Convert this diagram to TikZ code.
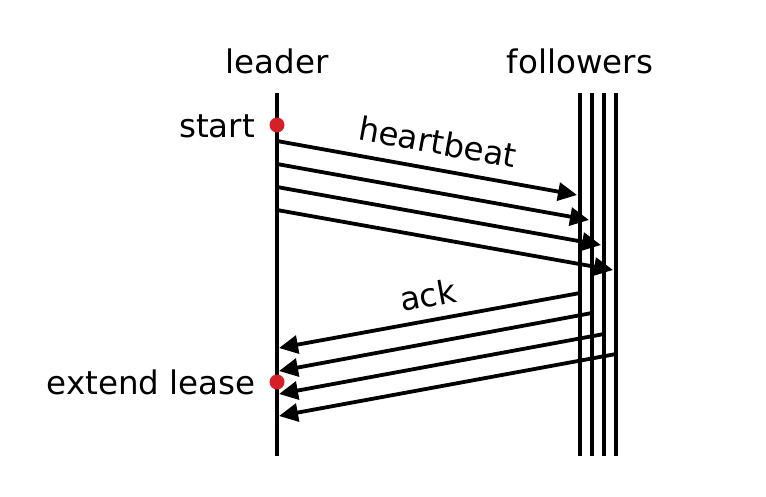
\documentclass[tikz,border=0pt]{standalone}
\usepackage{fontspec}
\setmainfont{DejaVu Sans}
\usetikzlibrary{arrows.meta}
\definecolor{eventred}{RGB}{214,32,40}

\begin{document}
\begin{tikzpicture}[x=1pt, y=-1pt,
	life/.style={line width=3.8pt},
	msg/.style={line width=3.8pt, -{Triangle[length=19pt,width=18pt]}},
	event/.style={fill=eventred, circle, inner sep=0pt, minimum size=15pt},
	txt/.style={font=\fontsize{32.5}{38}\selectfont, inner sep=0pt}]
	\useasboundingbox (0, 0) rectangle (766, 496);
	% titles
	\node [txt, anchor=base] (leader) at (277, 73) {leader};
	\node [txt, anchor=base] (followers) at (580, 73) {followers};
	% life lines
	\coordinate (l-top) at (277, 93);
	\coordinate (l-bot) at (277, 456);
	\draw [life] (l-top) -- (l-bot);
	\coordinate (f1-top) at (580, 93); \coordinate (f1-bot) at (580, 456);
	\coordinate (f2-top) at (592, 93); \coordinate (f2-bot) at (592, 456);
	\coordinate (f3-top) at (604, 93); \coordinate (f3-bot) at (604, 456);
	\coordinate (f4-top) at (616, 93); \coordinate (f4-bot) at (616, 456);
	\draw [life] (f1-top) -- (f1-bot);
	\draw [life] (f2-top) -- (f2-bot);
	\draw [life] (f3-top) -- (f3-bot);
	\draw [life] (f4-top) -- (f4-bot);
	% heartbeats
	\coordinate (hb1) at (277, 141); \coordinate (hb1-end) at (577, 195);
	\coordinate (hb2) at (277, 164); \coordinate (hb2-end) at (589, 220);
	\coordinate (hb3) at (277, 187); \coordinate (hb3-end) at (601, 245);
	\coordinate (hb4) at (277, 210); \coordinate (hb4-end) at (613, 270);
	\draw [msg] (hb1) -- (hb1-end) node [txt, sloped, above=13pt, pos=0.52] (heartbeat) {heartbeat};
	\draw [msg] (hb2) -- (hb2-end);
	\draw [msg] (hb3) -- (hb3-end);
	\draw [msg] (hb4) -- (hb4-end);
	% acks
	\coordinate (ack1) at (580, 293); \coordinate (ack1-end) at (279, 348);
	\coordinate (ack2) at (592, 313); \coordinate (ack2-end) at (279, 371);
	\coordinate (ack3) at (604, 334); \coordinate (ack3-end) at (279, 394);
	\coordinate (ack4) at (616, 354); \coordinate (ack4-end) at (279, 416);
	\draw [msg] (ack1) -- (ack1-end) node [txt, sloped, above=11pt, pos=0.49] (ack) {ack};
	\draw [msg] (ack2) -- (ack2-end);
	\draw [msg] (ack3) -- (ack3-end);
	\draw [msg] (ack4) -- (ack4-end);
	% events
	\node [event] (start-dot) at (277, 125) {};
	\node [txt, anchor=base east] (start) at (255, 137) {start};
	\node [event] (extend-dot) at (277, 382) {};
	\node [txt, anchor=base east] (extend) at (256, 394) {extend lease};
\end{tikzpicture}
\end{document}
